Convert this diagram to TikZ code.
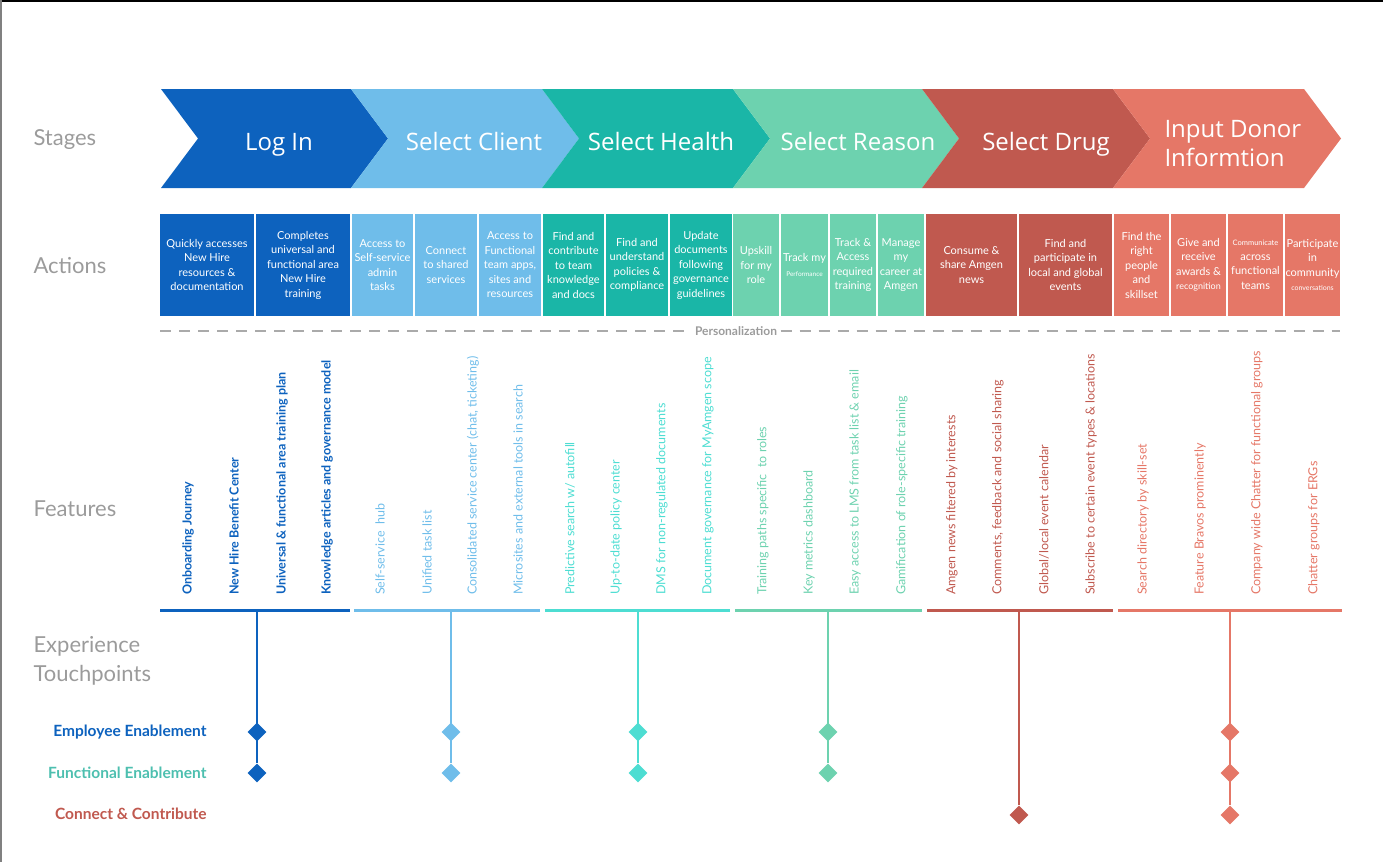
\documentclass[tikz,border=0pt]{standalone}
\usepackage{fontspec}
\setmainfont{Lato}
\newfontfamily\stagefont{Open Sans}
\usepackage{tikz}
\usetikzlibrary{shapes.geometric}
\definecolor{loginblue}{RGB}{13, 98, 190}
\definecolor{clientblue}{RGB}{111, 189, 234}
\definecolor{healthteal}{RGB}{26, 182, 167}
\definecolor{reasongreen}{RGB}{109, 210, 175}
\definecolor{drugred}{RGB}{192, 89, 79}
\definecolor{donorsalmon}{RGB}{229, 119, 103}
\definecolor{featteal}{RGB}{77, 221, 210}
\definecolor{labelgray}{RGB}{155, 155, 155}
\definecolor{dashgray}{RGB}{170, 170, 170}
\definecolor{functeal}{RGB}{77, 191, 175}

\begin{document}
\begin{tikzpicture}[x=1pt, y=-1pt,
    stagetext/.style={text=white, anchor=base, font=\stagefont\fontsize{24}{29}\selectfont, align=left},
    act/.style={fill=#1, text=white, minimum height=102pt, inner sep=0pt, align=center, font=\fontsize{11}{14.5}\selectfont},
    feat/.style={rotate=90, anchor=west, text=#1, inner sep=0pt, font=\fontsize{12.5}{15}\selectfont},
    featbold/.style={feat=#1, font=\bfseries\fontsize{12.5}{15}\selectfont},
    rowlabel/.style={anchor=west, text=labelgray, align=left, font=\fontsize{22}{29}\selectfont},
    tplabel/.style={anchor=east, text=#1, font=\bfseries\fontsize{15.5}{18}\selectfont},
    tp/.style={shape=diamond, fill=#1, minimum width=19pt, minimum height=19pt, inner sep=0pt},
    grpline/.style={draw=#1, line width=3pt},
    stem/.style={draw=#1, line width=2pt}
]
    \useasboundingbox (0,0) rectangle (1383,862);
    % Frame
    \draw[black, line width=2pt] (0,1) -- (1383,1);
    \draw[gray, line width=2pt] (1,0) -- (1,862);

    % Row labels
    \node[rowlabel] (lstages) at (30,140) {Stages};
    \node[rowlabel] (lactions) at (30,266) {Actions};
    \node[rowlabel] (lfeatures) at (30,509) {Features};
    \node[rowlabel] (ltouch) at (30,661) {Experience\\Touchpoints};

    % Stages (chevrons)
    \foreach \l/\r/\c in {161/351/loginblue, 351/542/clientblue, 542/733/healthteal,
                          733/922/reasongreen, 922/1113/drugred, 1113/1304/donorsalmon}
        \fill[\c] (\l,89) -- (\r,89) -- (\r+37,138.5) -- (\r,188) -- (\l,188) -- (\l+37,138.5) -- cycle;
    \node[stagetext] (login) at (279,150) {Log In};
    \node[stagetext] (client) at (474,150) {Select Client};
    \node[stagetext] (health) at (661,150) {Select Health};
    \node[stagetext] (reason) at (858,150) {Select Reason};
    \node[stagetext] (drug) at (1046,150) {Select Drug};
    \node[stagetext, anchor=west] (donor) at (1161,144) {Input Donor\\Informtion};

    % Actions
    \node[act=loginblue, minimum width=94pt] (a1) at (207,265) {Quickly accesses\\New Hire\\resources \&\\documentation};
    \node[act=loginblue, minimum width=94pt] (a2) at (303,265) {Completes\\universal and\\functional area\\New Hire\\training};
    \node[act=clientblue, minimum width=61pt] (a3) at (382.5,265) {Access to\\Self-service\\admin\\tasks};
    \node[act=clientblue, minimum width=62pt] (a4) at (446,265) {Connect\\to shared\\services};
    \node[act=clientblue, minimum width=62pt] (a5) at (510,265) {Access to\\Functional\\team apps,\\sites and\\resources};
    \node[act=healthteal, minimum width=61pt] (a6) at (573.5,265) {Find and\\contribute\\to team\\knowledge\\and docs};
    \node[act=healthteal, minimum width=62pt] (a7) at (637,265) {Find and\\understand\\policies \&\\compliance};
    \node[act=healthteal, minimum width=62pt] (a8) at (701,265) {Update\\documents\\following\\governance\\guidelines};
    \node[act=reasongreen, minimum width=46pt] (a9) at (756,265) {Upskill\\for my\\role};
    \node[act=reasongreen, minimum width=47pt] (a10) at (804.5,265) {Track my\\{\fontsize{6.5}{9}\selectfont Performance}};
    \node[act=reasongreen, minimum width=46pt] (a11) at (853,265) {Track \&\\Access\\required\\training};
    \node[act=reasongreen, minimum width=46pt] (a12) at (901,265) {Manage\\my\\career at\\Amgen};
    \node[act=drugred, minimum width=91pt] (a13) at (971.5,265) {Consume \&\\share Amgen\\news};
    \node[act=drugred, minimum width=93pt] (a14) at (1065.5,265) {Find and\\participate in\\local and global\\events};
    \node[act=donorsalmon, minimum width=55pt] (a15) at (1141.5,265) {Find the\\right\\people\\and\\skillset};
    \node[act=donorsalmon, minimum width=55pt] (a16) at (1198.5,265) {Give and\\receive\\awards \&\\{\fontsize{9}{12}\selectfont recognition}};
    \node[act=donorsalmon, minimum width=55pt] (a17) at (1255.5,265) {{\fontsize{7.5}{10}\selectfont Communicate}\\across\\functional\\teams};
    \node[act=donorsalmon, minimum width=55pt] (a18) at (1312.5,265) {Participate\\in\\community\\{\fontsize{7}{9}\selectfont conversations}};

    % Personalization divider
    \node[text=labelgray, font=\bfseries\fontsize{12}{14}\selectfont] (pers) at (736,331) {Personalization};
    \coordinate (pl) at (160,331);
    \coordinate (pr) at (1340,331);
    \draw[dashgray, line width=2pt, dash pattern=on 11pt off 8pt] (pl) -- (pers.west);
    \draw[dashgray, line width=2pt, dash pattern=on 11pt off 8pt] (pers.east) -- (pr);

    % Features
    \node[featbold=loginblue] (f1) at (188,595) {Onboarding Journey};
    \node[featbold=loginblue] (f2) at (234,595) {New Hire Benefit Center};
    \node[featbold=loginblue] (f3) at (282,595) {Universal \& functional area training plan};
    \node[featbold=loginblue] (f4) at (327,595) {Knowledge articles and governance model};
    \node[feat=clientblue] (f5) at (380,595) {Self-service\ \ hub};
    \node[feat=clientblue] (f6) at (427,595) {Unified task list};
    \node[feat=clientblue] (f7) at (473,595) {Consolidated service center (chat, ticketing)};
    \node[feat=clientblue] (f8) at (518,595) {Microsites and external tools in search};
    \node[feat=featteal] (f9) at (570,595) {Predictive search w/ autofill};
    \node[feat=featteal] (f10) at (616,595) {Up-to-date policy center};
    \node[feat=featteal] (f11) at (662,595) {DMS for non-regulated documents};
    \node[feat=featteal] (f12) at (708,595) {Document governance for MyAmgen scope};
    \node[feat=reasongreen] (f13) at (763,595) {Training paths specific\ \ to roles};
    \node[feat=reasongreen] (f14) at (809,595) {Key metrics dashboard};
    \node[feat=reasongreen] (f15) at (855,595) {Easy access to LMS from task list \& email};
    \node[feat=reasongreen] (f16) at (902,595) {Gamification of role-specific training};
    \node[feat=drugred] (f17) at (952,595) {Amgen news filtered by interests};
    \node[feat=drugred] (f18) at (998,595) {Comments, feedback and social sharing};
    \node[feat=drugred] (f19) at (1044,595) {Global/local event calendar};
    \node[feat=drugred] (f20) at (1091,595) {Subscribe to certain event types \& locations};
    \node[feat=donorsalmon] (f21) at (1143,595) {Search directory by skill-set};
    \node[feat=donorsalmon] (f22) at (1200,595) {Feature Bravos prominently};
    \node[feat=donorsalmon] (f23) at (1257,595) {Company wide Chatter for functional groups};
    \node[feat=donorsalmon] (f24) at (1314,595) {Chatter groups for ERGs};

    % Group bars
    \draw[grpline=loginblue] (160,610) -- (350,610);
    \draw[grpline=clientblue] (354,610) -- (540,610);
    \draw[grpline=featteal] (545,610) -- (730,610);
    \draw[grpline=reasongreen] (735,610) -- (922,610);
    \draw[grpline=drugred] (927,610) -- (1113,610);
    \draw[grpline=donorsalmon] (1118,610) -- (1342,610);

    % Touchpoint labels
    \node[tplabel=loginblue] (employee) at (210,732) {Employee Enablement};
    \node[tplabel=functeal] (functional) at (210,773) {Functional Enablement};
    \node[tplabel=drugred] (connect) at (210,814) {Connect \& Contribute};

    % Touchpoints
    \coordinate (g1) at (257,610);
    \coordinate (g2) at (451,610);
    \coordinate (g3) at (638,610);
    \coordinate (g4) at (828,610);
    \coordinate (g5) at (1019,610);
    \coordinate (g6) at (1230,610);
    \node[tp=loginblue] (e1) at (257,732) {};
    \node[tp=loginblue] (u1) at (257,773) {};
    \node[tp=clientblue] (e2) at (451,732) {};
    \node[tp=clientblue] (u2) at (451,773) {};
    \node[tp=featteal] (e3) at (638,732) {};
    \node[tp=featteal] (u3) at (638,773) {};
    \node[tp=reasongreen] (e4) at (828,732) {};
    \node[tp=reasongreen] (u4) at (828,773) {};
    \node[tp=drugred] (c5) at (1019,815) {};
    \node[tp=donorsalmon] (e6) at (1230,732) {};
    \node[tp=donorsalmon] (u6) at (1230,773) {};
    \node[tp=donorsalmon] (c6) at (1230,815) {};
    \draw[stem=loginblue] (g1) -- (u1);
    \draw[stem=clientblue] (g2) -- (u2);
    \draw[stem=featteal] (g3) -- (u3);
    \draw[stem=reasongreen] (g4) -- (u4);
    \draw[stem=drugred] (g5) -- (c5);
    \draw[stem=donorsalmon] (g6) -- (c6);
\end{tikzpicture}
\end{document}
